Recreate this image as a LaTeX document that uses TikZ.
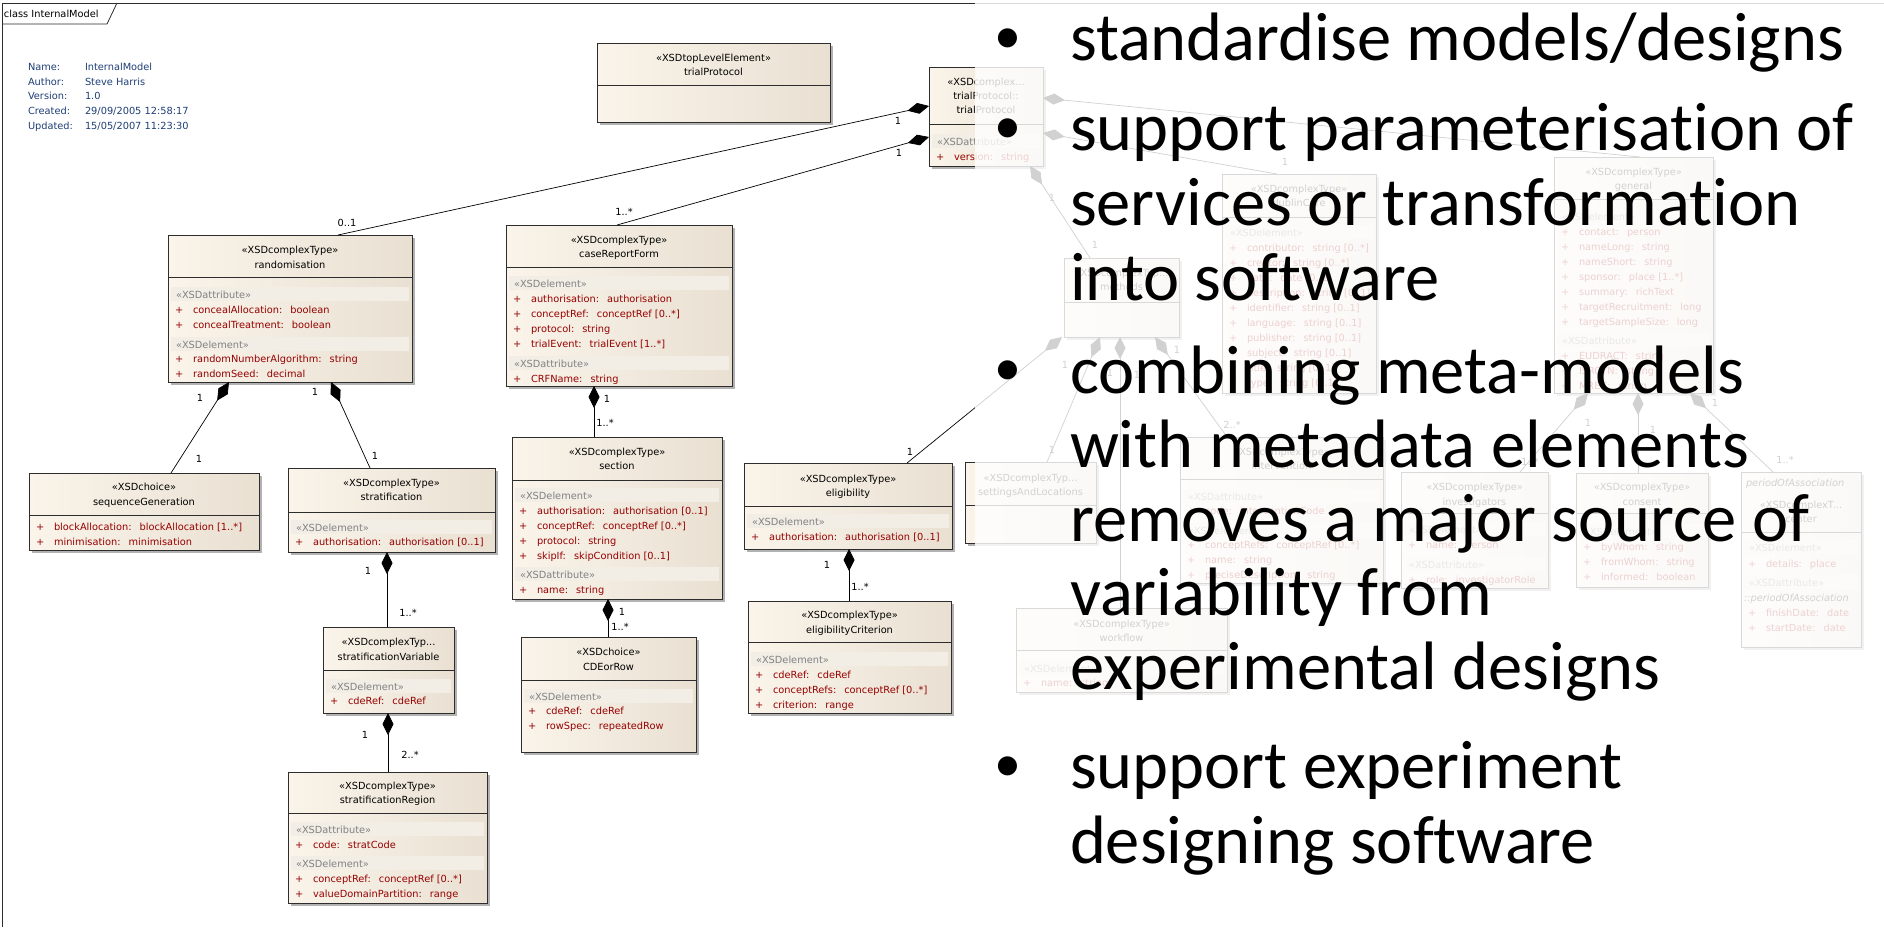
\documentclass[tikz,border=0pt]{standalone}
\usepackage{fontspec}
\newfontfamily\eafont{DejaVu Sans}
\newfontfamily\calfont{Carlito}[Ligatures=NoCommon]
\usetikzlibrary{arrows.meta}
\definecolor{boxL}{RGB}{250,244,234}
\definecolor{boxR}{RGB}{233,224,210}
\definecolor{bandC}{RGB}{242,237,229}
\definecolor{bandT}{RGB}{130,130,130}
\definecolor{attR}{RGB}{150,0,0}
\definecolor{infoB}{RGB}{31,63,119}
\definecolor{lineC}{RGB}{45,45,45}
\tikzset{
  eat/.style={font=\eafont\fontsize{9.8}{12}\selectfont, inner sep=0pt, outer sep=0pt},
  boxnode/.style={draw=lineC, line width=0.9pt, left color=boxL, right color=boxR, inner sep=0pt, outer sep=0pt},
  shad/.style={fill=black!30},
  sepline/.style={draw=lineC, line width=0.9pt},
  hd/.style={eat, anchor=base},
  bd/.style={eat, anchor=base west, text=bandT},
  rw/.style={eat, anchor=base west, text=attR},
  lb/.style={eat, anchor=center},
  info/.style={eat, anchor=base west, text=infoB},
  frame/.style={draw=lineC, line width=0.8pt},
  compo/.style={draw=black, line width=0.7pt, arrows={Diamond[length=22pt,width=11pt]-}},
  big/.style={font=\calfont\fontsize{68.5}{75}\selectfont, anchor=base west, inner sep=0pt, outer sep=0pt},
  bul/.style={font=\calfont\fontsize{54}{60}\selectfont, anchor=base, inner sep=0pt, outer sep=0pt},
}
\newcommand\ubox[6]{%
  \fill[shad] ({#2+3},{#3+3}) rectangle ({#4+3},{#5+3});
  \node[boxnode, minimum width={#4-#2}, minimum height={#5-#3}] (#1) at ({(#2+#4)/2},{(#3+#5)/2}) {};
  \draw[sepline] (#2,#6) -- (#4,#6);
}
\newcommand\uhd[6]{%
  \node[hd] (#1-s) at (#2,#3) {#5};
  \node[hd] (#1-n) at (#2,#4) {#6};
}
\newcommand\uband[5]{%
  \fill[bandC] ({#2+3},{#4-11}) rectangle ({#3-3},{#4+3});
  \node[bd] (#1) at ({#2+8},#4) {#5};
}
\newcommand\urow[4]{%
  \node[rw] (#1-p) at ({#2+7},#3) {+};
  \node[rw] (#1) at ({#2+25},#3) {#4};
}
\newcommand\ugap{\hspace{8pt}}
\begin{document}
\begin{tikzpicture}[x=1pt,y=-1pt]
\useasboundingbox (0,0) rectangle (1884,927);
\fill[white] (0,0) rectangle (1884,927);
% frame
\draw[frame] (2,927) -- (2,3) -- (1884,3);
\draw[frame] (2,24) -- (107,24) -- (117,3);
\node[eat, anchor=base west] (tab) at (4,17) {class InternalModel};
% info
\node[info] (i1k) at (28,70) {Name:};    \node[info] (i1v) at (85,70) {InternalModel};
\node[info] (i2k) at (28,85) {Author:};  \node[info] (i2v) at (85,85) {Steve Harris};
\node[info] (i3k) at (28,99.5) {Version:}; \node[info] (i3v) at (85,99.5) {1.0};
\node[info] (i4k) at (28,114) {Created:}; \node[info] (i4v) at (85,114) {29/09/2005 12:58:17};
\node[info] (i5k) at (28,129) {Updated:}; \node[info] (i5v) at (85,129) {15/05/2007 11:23:30};

% ---------- faded part (drawn first, then covered) ----------
\ubox{meth}{1064}{258}{1179}{337}{302}
\uhd{meth}{1121.5}{276}{290}{«XSDcomplexTyp...}{methods}
\ubox{dc}{1222}{174}{1376}{393}{217}
\uhd{dc}{1299}{192}{206}{«XSDcomplexType»}{dublinCore}
\uband{dcb}{1222}{1376}{236}{«XSDelement»}
\urow{dc1}{1222}{251}{contributor:\ugap string [0..*]}
\urow{dc2}{1222}{266}{creator:\ugap string [0..*]}
\urow{dc3}{1222}{281}{date:\ugap date [0..1]}
\urow{dc4}{1222}{296}{description:\ugap string [0..1]}
\urow{dc5}{1222}{311}{identifier:\ugap string [0..1]}
\urow{dc6}{1222}{326}{language:\ugap string [0..1]}
\urow{dc7}{1222}{341}{publisher:\ugap string [0..1]}
\urow{dc8}{1222}{356}{subject:\ugap string [0..1]}
\urow{dc9}{1222}{371}{title:\ugap string [0..1]}
\urow{dc10}{1222}{386}{type:\ugap string [0..1]}
\ubox{sal}{965}{462}{1096}{543}{505}
\uhd{sal}{1030.5}{481}{495}{«XSDcomplexTyp...}{settingsAndLocations}
\ubox{intv}{1180}{437}{1383}{583}{479}
\uhd{intv}{1281.5}{455}{469}{«XSDcomplexType»}{intervention}
\uband{intvb1}{1180}{1383}{500}{«XSDattribute»}
\urow{intv1}{1180}{514}{code:\ugap interventionCode}
\uband{intvb2}{1180}{1383}{534}{«XSDelement»}
\urow{intv2}{1180}{548}{conceptRefs:\ugap conceptRef [0..*]}
\urow{intv3}{1180}{563}{name:\ugap string}
\urow{intv4}{1180}{578}{preciseDescription:\ugap string}
\ubox{inv}{1401}{472}{1548}{588}{513}
\uhd{inv}{1474.5}{490}{505}{«XSDcomplexType»}{investigators}
\uband{invb1}{1401}{1548}{533}{«XSDelement»}
\urow{inv1}{1401}{548}{name:\ugap person}
\uband{invb2}{1401}{1548}{568}{«XSDattribute»}
\urow{inv2}{1401}{583}{role:\ugap investigatorRole}
\ubox{gen}{1554}{157}{1713}{393}{199}
\uhd{gen}{1633.5}{175}{189}{«XSDcomplexType»}{general}
\uband{genb1}{1554}{1713}{220}{«XSDelement»}
\urow{gen1}{1554}{235}{contact:\ugap person}
\urow{gen2}{1554}{250}{nameLong:\ugap string}
\urow{gen3}{1554}{265}{nameShort:\ugap string}
\urow{gen4}{1554}{280}{sponsor:\ugap place [1..*]}
\urow{gen5}{1554}{295}{summary:\ugap richText}
\urow{gen6}{1554}{310}{targetRecruitment:\ugap long}
\urow{gen7}{1554}{325}{targetSampleSize:\ugap long}
\uband{genb2}{1554}{1713}{344}{«XSDattribute»}
\urow{gen8}{1554}{359}{EUDRACT:\ugap string}
\urow{gen9}{1554}{374}{ISRCTN:\ugap string}
\urow{gen10}{1554}{389}{MREC:\ugap string}
\ubox{cons}{1576}{473}{1708}{587}{513}
\uhd{cons}{1642}{490}{505}{«XSDcomplexType»}{consent}
\uband{consb}{1576}{1708}{535}{«XSDelement»}
\urow{cons1}{1576}{550}{byWhom:\ugap string}
\urow{cons2}{1576}{565}{fromWhom:\ugap string}
\urow{cons3}{1576}{580}{informed:\ugap boolean}
\ubox{cent}{1741}{472}{1861}{647}{532}
\node[eat, anchor=base west, font=\eafont\itshape\fontsize{9.8}{12}\selectfont] (cent-t) at (1746,486) {periodOfAssociation};
\uhd{cent}{1801}{508}{522}{«XSDcomplexT...}{center}
\uband{centb1}{1741}{1861}{551}{«XSDelement»}
\urow{cent1}{1741}{567}{details:\ugap place}
\uband{centb2}{1741}{1861}{586}{«XSDattribute»}
\node[eat, anchor=base west, font=\eafont\itshape\fontsize{9.8}{12}\selectfont] (cent-t2) at (1744,601) {::periodOfAssociation};
\urow{cent2}{1741}{616}{finishDate:\ugap date}
\urow{cent3}{1741}{631}{startDate:\ugap date}
\ubox{wf}{1016}{608}{1227}{692}{650}
\uhd{wf}{1121.5}{627}{641}{«XSDcomplexType»}{workflow}
\uband{wfb}{1016}{1227}{672}{«XSDelement»}
\urow{wf1}{1016}{686}{name:\ugap string}

% ---------- visible boxes ----------
\ubox{tple}{597}{43}{830}{122}{85}
\uhd{tple}{713.5}{61}{75}{«XSDtopLevelElement»}{trialProtocol}
\ubox{ttp}{929}{67}{1043}{166}{124}
\node[hd] (ttp-s) at (986,85) {«XSDcomplex...};
\node[hd] (ttp-n1) at (986,99) {trialProtocol::};
\node[hd] (ttp-n2) at (986,113) {trialProtocol};
\uband{ttpb}{929}{1043}{145}{«XSDattribute»}
\urow{ttp1}{929}{160}{version:\ugap string}

\ubox{rand}{168}{235}{412}{382}{277}
\uhd{rand}{290}{253}{268}{«XSDcomplexType»}{randomisation}
\uband{randb1}{168}{412}{298}{«XSDattribute»}
\urow{rand1}{168}{313}{concealAllocation:\ugap boolean}
\urow{rand2}{168}{328}{concealTreatment:\ugap boolean}
\uband{randb2}{168}{412}{348}{«XSDelement»}
\urow{rand3}{168}{362}{randomNumberAlgorithm:\ugap string}
\urow{rand4}{168}{377}{randomSeed:\ugap decimal}

\ubox{crf}{506}{225}{732}{386}{267}
\uhd{crf}{619}{243}{257}{«XSDcomplexType»}{caseReportForm}
\uband{crfb1}{506}{732}{287}{«XSDelement»}
\urow{crf1}{506}{302}{authorisation:\ugap authorisation}
\urow{crf2}{506}{317}{conceptRef:\ugap conceptRef [0..*]}
\urow{crf3}{506}{332}{protocol:\ugap string}
\urow{crf4}{506}{347}{trialEvent:\ugap trialEvent [1..*]}
\uband{crfb2}{506}{732}{367}{«XSDattribute»}
\urow{crf5}{506}{382}{CRFName:\ugap string}

\ubox{seqg}{29}{473}{259}{550}{515}
\uhd{seqg}{144}{490}{505}{«XSDchoice»}{sequenceGeneration}
\urow{seqg1}{29}{530}{blockAllocation:\ugap blockAllocation [1..*]}
\urow{seqg2}{29}{545}{minimisation:\ugap minimisation}

\ubox{strat}{288}{468}{495}{552}{512}
\uhd{strat}{391.5}{486}{500}{«XSDcomplexType»}{stratification}
\uband{stratb}{288}{495}{531}{«XSDelement»}
\urow{strat1}{288}{545}{authorisation:\ugap authorisation [0..1]}

\ubox{sect}{512}{437}{722}{599}{480}
\uhd{sect}{617}{455}{469}{«XSDcomplexType»}{section}
\uband{sectb1}{512}{722}{499}{«XSDelement»}
\urow{sect1}{512}{514}{authorisation:\ugap authorisation [0..1]}
\urow{sect2}{512}{529}{conceptRef:\ugap conceptRef [0..*]}
\urow{sect3}{512}{544}{protocol:\ugap string}
\urow{sect4}{512}{559}{skipIf:\ugap skipCondition [0..1]}
\uband{sectb2}{512}{722}{578}{«XSDattribute»}
\urow{sect5}{512}{593}{name:\ugap string}

\ubox{elig}{744}{463}{952}{549}{506}
\uhd{elig}{848}{482}{496}{«XSDcomplexType»}{eligibility}
\uband{eligb}{744}{952}{525}{«XSDelement»}
\urow{elig1}{744}{540}{authorisation:\ugap authorisation [0..1]}

\ubox{sv}{323}{627}{454}{713}{670}
\uhd{sv}{388.5}{645}{660}{«XSDcomplexTyp...}{stratificationVariable}
\uband{svb}{323}{454}{690}{«XSDelement»}
\urow{sv1}{323}{704}{cdeRef:\ugap cdeRef}

\ubox{cde}{521}{637}{696}{752}{680}
\uhd{cde}{608.5}{655}{670}{«XSDchoice»}{CDEorRow}
\uband{cdeb}{521}{696}{700}{«XSDelement»}
\urow{cde1}{521}{714}{cdeRef:\ugap cdeRef}
\urow{cde2}{521}{729}{rowSpec:\ugap repeatedRow}

\ubox{ec}{748}{601}{951}{713}{642}
\uhd{ec}{849.5}{618}{633}{«XSDcomplexType»}{eligibilityCriterion}
\uband{ecb}{748}{951}{663}{«XSDelement»}
\urow{ec1}{748}{678}{cdeRef:\ugap cdeRef}
\urow{ec2}{748}{693}{conceptRefs:\ugap conceptRef [0..*]}
\urow{ec3}{748}{708}{criterion:\ugap range}

\ubox{sr}{288}{772}{487}{903}{813}
\uhd{sr}{387.5}{789}{803}{«XSDcomplexType»}{stratificationRegion}
\uband{srb1}{288}{487}{833}{«XSDattribute»}
\urow{sr1}{288}{848}{code:\ugap stratCode}
\uband{srb2}{288}{487}{867}{«XSDelement»}
\urow{sr2}{288}{882}{conceptRef:\ugap conceptRef [0..*]}
\urow{sr3}{288}{897}{valueDomainPartition:\ugap range}

% ---------- connectors ----------
\draw[compo] (ttp.west |- 0,106) -- (rand.north -| 338,0);
\node[lb] (lA1) at (898,121) {1}; \node[lb] (lA2) at (347,223) {0..1};
\draw[compo] (ttp.west |- 0,137) -- (crf.north -| 617,0);
\node[lb] (lB1) at (899,153) {1}; \node[lb] (lB2) at (624,212) {1..*};
\draw[compo] (rand.south -| 229,0) -- (seqg.north -| 171,0);
\node[lb] (lC1) at (200,398) {1}; \node[lb] (lC2) at (199,459) {1};
\draw[compo] (rand.south -| 331,0) -- (strat.north -| 370,0);
\node[lb] (lD1) at (315,392) {1}; \node[lb] (lD2) at (375,456) {1};
\draw[compo] (crf.south -| 594,0) -- (sect.north -| 594,0);
\node[lb] (lE1) at (607,399) {1}; \node[lb] (lE2) at (605,423) {1..*};
\draw[compo] (sect.south -| 608,0) -- (cde.north -| 608,0);
\node[lb] (lF1) at (622,612) {1}; \node[lb] (lF2) at (620,627) {1..*};
\draw[compo] (elig.south -| 849,0) -- (ec.north -| 849,0);
\node[lb] (lG1) at (827,565) {1}; \node[lb] (lG2) at (860,587) {1..*};
\draw[compo] (strat.south -| 387,0) -- (sv.north -| 387,0);
\node[lb] (lH1) at (368,571) {1}; \node[lb] (lH2) at (408,613) {1..*};
\draw[compo] (sv.south -| 388,0) -- (sr.north -| 388,0);
\node[lb] (lI1) at (365,735) {1}; \node[lb] (lI2) at (410,755) {2..*};
\draw[compo] (meth.south -| 1062,0) -- (elig.north -| 907,0);
\node[lb] (lJ1) at (910,452) {1}; \node[lb] (lJ2) at (1065,365) {1};
% faded connectors
\draw[compo] (ttp.east |- 0,133) -- (dc.north -| 1277,0);
\node[lb] (lK1) at (1285,162) {1};
\draw[compo] (ttp.east |- 0,98) -- (gen.north -| 1640,0);
\draw[compo] (ttp.south -| 1030,0) -- (meth.north -| 1090,0);
\node[lb] (lM1) at (1052,198) {1}; \node[lb] (lM2) at (1095,245) {1};
\draw[compo] (meth.south -| 1100,0) -- (sal.north -| 1047,0);
\node[lb] (lN1) at (1110,373) {1}; \node[lb] (lN2) at (1052,450) {1};
\draw[compo] (meth.south -| 1120,0) -- (wf.north -| 1120,0);
\node[lb] (lO1) at (1137,375) {1};
\draw[compo] (meth.south -| 1155,0) -- (intv.north -| 1227,0);
\node[lb] (lP1) at (1177,350) {1}; \node[lb] (lP2) at (1232,425) {2..*};
\draw[compo] (gen.south -| 1588,0) -- (inv.north -| 1520,0);
\node[lb] (lQ1) at (1588,423) {1}; \node[lb] (lQ2) at (1530,462) {1..*};
\draw[compo] (gen.south -| 1638,0) -- (cons.north -| 1638,0);
\node[lb] (lR1) at (1653,430) {1};
\draw[compo] (gen.south -| 1690,0) -- (cent.north -| 1773,0);
\node[lb] (lS1) at (1715,403) {1}; \node[lb] (lS2) at (1785,460) {1..*};

% ---------- overlay ----------
\fill[white, opacity=0.82] (975,0) rectangle (1884,927);

% ---------- bullet text ----------
\node[bul] (d1) at (1008,53) {•};
\node[big] (t1a) at (1070,60) {standardise models/designs};
\node[bul] (d2) at (1008,143) {•};
\node[big] (t2a) at (1070,150) {support parameterisation of};
\node[big] (t2b) at (1070,225) {services or transformation};
\node[big] (t2c) at (1070,300) {into software};
\node[bul] (d3) at (1008,385) {•};
\node[big] (t3a) at (1070,393) {combining meta-models};
\node[big] (t3b) at (1070,467) {with metadata elements};
\node[big] (t3c) at (1070,541) {removes a major source of};
\node[big] (t3d) at (1070,615) {variability from};
\node[big] (t3e) at (1070,689) {experimental designs};
\node[bul] (d4) at (1008,781) {•};
\node[big] (t4a) at (1070,788) {support experiment};
\node[big] (t4b) at (1070,863) {designing software};
\end{tikzpicture}
\end{document}
